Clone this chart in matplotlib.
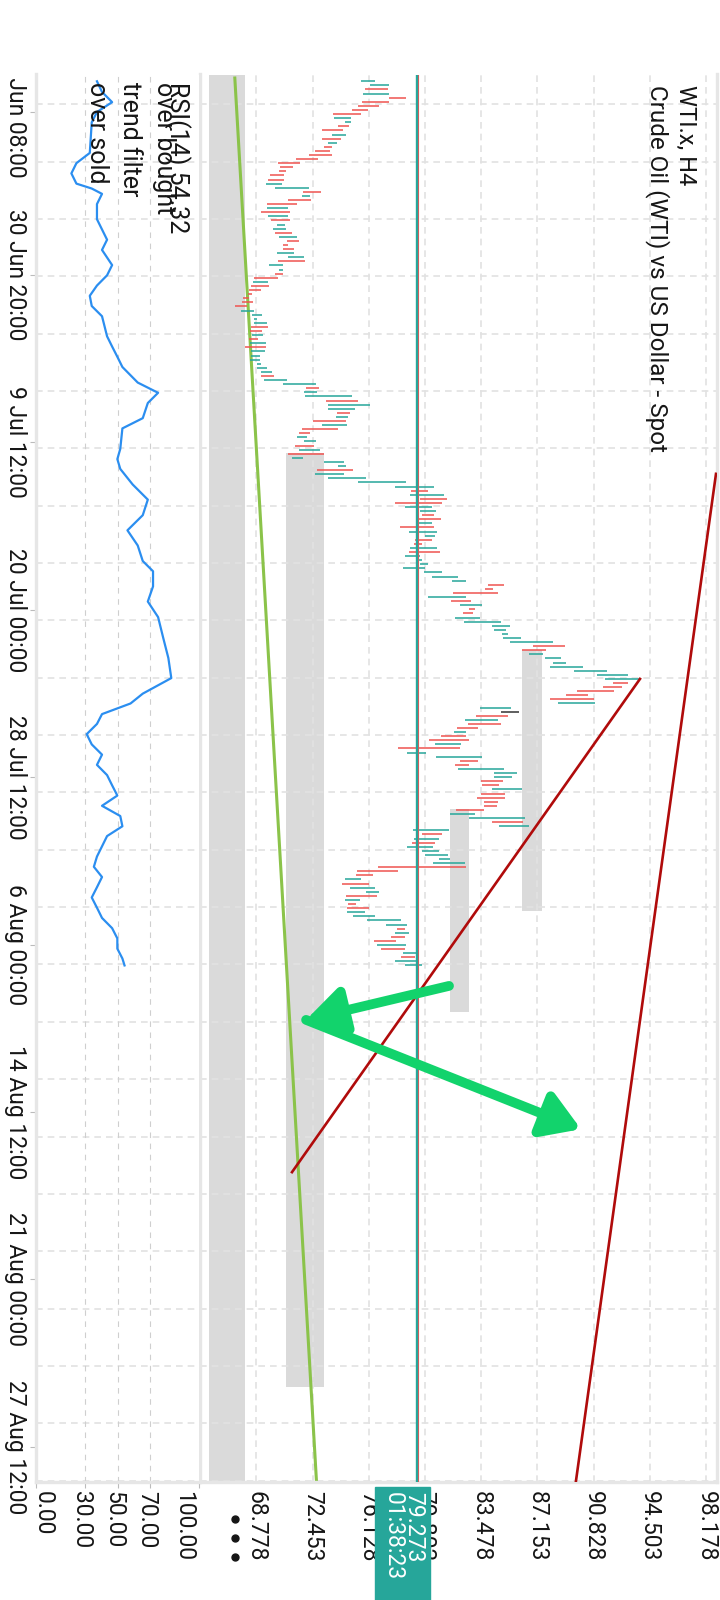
import numpy as np
import matplotlib
matplotlib.use("Agg")
import matplotlib.pyplot as plt
from matplotlib.patches import Rectangle, FancyArrowPatch
from matplotlib.lines import Line2D
from matplotlib.transforms import Bbox

plt.rcParams['font.family'] = ['Roboto', 'DejaVu Sans']

# ============================== data ======================================= #

# H4 bars, oldest first: low / high and direction (u = up, d = down, n = doji)
bar_low = [
    75.61, 76.20, 75.87, 75.77, 77.44, 75.66, 75.44, 75.05, 73.80, 73.87,
    74.57, 74.13, 73.06, 73.74, 73.08, 73.48, 73.21, 72.60, 72.21, 71.36,
    70.16, 70.32, 70.25, 69.64, 69.55, 69.40, 69.99, 71.84, 71.78, 70.86,
    69.49, 69.49, 69.07, 69.55, 69.73, 70.14, 69.88, 69.99, 70.25, 70.77,
    70.53, 70.53, 70.14, 70.86, 70.16, 69.60, 70.25, 69.99, 68.64, 68.57,
    68.42, 68.29, 68.20, 67.92, 67.81, 67.37, 67.76, 68.46, 68.64, 68.64,
    68.42, 68.35, 68.51, 68.29, 68.35, 68.03, 68.42, 68.42, 68.35, 68.81,
    68.83, 69.07, 69.07, 69.29, 70.53, 72.02, 71.89, 71.95, 73.32, 73.45,
    73.45, 74.07, 73.98, 72.47, 73.06, 71.78, 71.56, 71.45, 71.89, 71.30,
    71.56, 70.86, 71.12, 73.19, 74.11, 72.76, 72.60, 73.45, 75.42, 77.84,
    78.88, 78.82, 79.47, 77.84, 78.49, 79.47, 79.62, 79.32, 79.36, 78.16,
    78.75, 79.80, 79.14, 79.08, 78.82, 78.75, 78.49, 79.32, 79.49, 78.36,
    79.73, 80.26, 81.59, 83.90, 83.72, 81.65, 80.02, 81.50, 82.09, 82.68,
    82.31, 81.76, 82.37, 84.16, 84.31, 84.86, 84.92, 85.38, 86.88, 86.16,
    86.62, 87.67, 88.19, 87.99, 89.56, 91.03, 91.57, 92.12, 91.44, 89.76,
    89.02, 87.97, 88.52, 83.40, 84.77, 83.13, 82.44, 82.63, 81.91, 81.70,
    80.87, 80.08, 80.45, 78.05, 78.62, 80.52, 82.11, 81.76, 81.98, 84.31,
    84.33, 83.44, 83.50, 84.20, 83.46, 83.22, 83.66, 83.68, 81.83, 81.43,
    82.70, 84.18, 84.66, 79.04, 79.60, 79.08, 78.95, 78.64, 79.58, 79.80,
    80.74, 80.34, 76.75, 75.33, 75.29, 74.57, 74.37, 74.89, 75.94, 74.63,
    74.57, 74.76, 74.72, 74.68, 75.11, 76.03, 77.25, 77.99, 77.84, 77.55,
    76.48, 76.64, 76.92, 78.34, 78.21, 77.84, 78.49]
bar_high = [
    76.53, 77.44, 77.36, 77.44, 78.56, 77.44, 76.79, 76.09, 75.61, 74.96,
    74.96, 74.83, 74.41, 74.61, 74.30, 74.07, 73.69, 73.59, 73.69, 72.78,
    71.60, 71.17, 70.73, 70.58, 70.58, 70.47, 72.23, 73.00, 72.28, 72.32,
    71.43, 70.84, 70.95, 70.82, 70.97, 70.64, 70.71, 71.08, 71.43, 71.54,
    70.86, 71.23, 71.23, 71.89, 71.95, 70.51, 70.53, 70.51, 70.16, 69.51,
    69.57, 69.05, 68.46, 68.29, 68.55, 68.14, 68.62, 69.12, 68.83, 69.44,
    69.51, 69.12, 69.18, 68.85, 69.38, 69.38, 69.31, 68.99, 68.99, 69.05,
    69.49, 69.77, 69.90, 70.75, 72.65, 72.87, 72.74, 75.00, 75.39, 76.18,
    75.20, 74.89, 74.78, 74.61, 74.68, 74.09, 72.28, 72.08, 72.67, 72.54,
    72.93, 73.19, 71.80, 74.48, 74.61, 75.07, 74.50, 75.92, 78.53, 80.37,
    79.97, 81.04, 81.22, 80.89, 80.23, 80.50, 80.37, 80.82, 80.23, 80.39,
    80.56, 80.45, 80.23, 79.62, 80.58, 80.78, 79.47, 79.58, 79.97, 79.80,
    80.89, 81.93, 82.46, 84.96, 84.27, 84.55, 82.48, 82.78, 83.50, 83.07,
    82.96, 83.40, 84.77, 85.36, 85.10, 85.25, 86.06, 88.17, 88.93, 87.69,
    87.49, 88.67, 89.00, 90.11, 91.68, 93.05, 93.86, 93.05, 92.66, 92.16,
    90.46, 90.83, 90.89, 85.40, 85.92, 85.20, 84.55, 84.75, 83.24, 82.48,
    82.46, 82.65, 82.13, 82.09, 79.86, 83.50, 83.29, 82.65, 84.96, 85.79,
    85.49, 84.88, 84.66, 86.14, 85.05, 85.03, 84.55, 84.53, 83.66, 83.07,
    86.32, 86.19, 86.60, 81.39, 80.89, 80.74, 80.43, 80.30, 80.74, 81.30,
    81.43, 82.44, 82.48, 78.01, 76.38, 75.59, 76.16, 76.51, 76.77, 76.64,
    75.55, 75.29, 76.16, 75.85, 76.53, 78.21, 78.60, 78.49, 78.77, 78.49,
    77.90, 78.56, 78.49, 79.43, 79.14, 79.36, 79.58]
bar_dir = ("uudud ddddu uddud udddd ddddd uudud dudud uudud dduud uuddu "
           "ddddd duuuu ddudu duuuu uuduu duudu ududu dduud uduuu duuuu "
           "duddu uddud uuddu duuuu uuudd dudud duuuu uuudd uuuuu uuddd "
           "dduun duddu ddudu udduu uddud ddddu uduud uduuu uuddd uduud "
           "udduu uudud dudud uu").replace(" ", "")

# RSI(14), read at bar positions
rsi_idx = [0, 2.6, 5.1, 7.5, 10, 17.5, 20, 22.5, 25, 26.2,
           27.5, 30, 33.7, 36.2, 38.7, 41.2, 44.9, 47.4, 49.9, 52.4,
           54.9, 57.4, 62.3, 64.8, 67.3, 69.8, 73.6, 76.1, 78.6, 82.3,
           84.8, 89.8, 92.3, 94.7, 98.5, 102.2, 106, 109.7, 113.4, 117.2,
           119.7, 123.4, 127.1, 130.9, 135.9, 140.9, 145.8, 149.6, 152, 154.6,
           157, 159.5, 162, 164.5, 167, 169.5, 172, 174.5, 177, 179.5,
           182, 184.4, 186.9, 189.4, 191.9, 194.4, 196.9, 199.4, 201.9, 204.4,
           206.9, 209.4, 211.9, 214.3, 216]
rsi_val = [37.4, 40.5, 46.7, 37.4, 34.2, 33, 24.8, 21.7, 24.8, 34.2,
           40.5, 37.4, 37.4, 40.5, 43.6, 40.5, 46.7, 43.6, 37.4, 33,
           34.2, 40.5, 43.6, 46.7, 49.9, 53, 62.4, 74.9, 68.6, 65.5,
           53, 51.7, 49.9, 51.7, 59.3, 68.6, 65.5, 56.1, 62.4, 65.5,
           71.8, 71.8, 68.6, 74.9, 78, 81.2, 83, 65.5, 58, 40.5,
           37.4, 31.1, 34.2, 40.5, 37.4, 43.6, 46.7, 49.9, 40.5, 51.7,
           53, 43.6, 40.5, 37.4, 35.5, 40.5, 37.4, 34.2, 37.4, 40.5,
           46.7, 49.9, 49.9, 53, 54.32]

price_ticks = [68.778, 72.453, 76.128, 79.803, 83.478, 87.153, 90.828, 94.503, 98.178]
rsi_ticks = [0, 30, 50, 70, 100]
time_labels = ["21 Jun 08:00", "30 Jun 20:00", "9 Jul 12:00", "20 Jul 00:00",
               "28 Jul 12:00", "6 Aug 00:00", "14 Aug 12:00", "21 Aug 00:00",
               "27 Aug 12:00"]

last_price = 79.273
ask_price = 79.36
countdown = "01:38:23"
rsi_last = 54.32

# shaded zones: price range and bar range
zone_lo = [65.67, 70.71, 81.43, 86.14]
zone_hi = [68.03, 73.19, 82.68, 87.45]
zone_from = [-5, 90.7, 177.8, 139.0]
zone_to = [350, 319.0, 227.4, 202.7]

# drawn lines: (price, bar) end points
red_lines = [[(93.86, 146.0), (71.10, 266.5)],
             [(98.83, 95.9), (89.67, 342.0)]]
green_line = [(67.36, -0.8), (72.70, 342.0)]
arrow_pts = [(81.37, 221.0), (72.02, 229.3), (90.00, 256.0)]

# ============================== layout ===================================== #

W, H = 720, 1600
TOP, BOT = 74.5, 1482
UP, DOWN = '#26a69a', '#ef5350'
GRID = '#e2e2e2'
EDGE = '#e6e6e6'
INK = '#161616'


def fx(px):
    return px / W


def fy(py):
    return 1 - py / H


fig = plt.figure(figsize=(W / 100, H / 100), dpi=100)
ax = fig.add_axes([fx(200), fy(BOT), fx(717) - fx(200), (BOT - TOP) / H])
ax_rsi = fig.add_axes([fx(36), fy(BOT), fx(199) - fx(36), (BOT - TOP) / H])

ylim = (342.2, -1.66)
ax.set_xlim(65.083, 98.896)
ax.set_ylim(*ylim)
ax_rsi.set_xlim(0, 100)
ax_rsi.set_ylim(*ylim)

grid_rows = 5.62 + 14.01 * np.arange(25)
label_rows = 6.4 + 40.9 * np.arange(len(time_labels))
label_rows[0] += 1.0

for a in (ax, ax_rsi):
    a.set_xticks([])
    a.set_yticks([])
    for s in a.spines.values():
        s.set_color(EDGE)
        s.set_linewidth(2.4)
    a.spines['top'].set_visible(False)
    for r in grid_rows:
        a.axhline(r, color=GRID, lw=1.2, ls=(0, (4, 3)), zorder=1.5)
ax_rsi.spines['right'].set_visible(False)

for p in price_ticks:
    ax.axvline(p, color=GRID, lw=1.2, ls=(0, (4, 3)), zorder=1.5)
for v in rsi_ticks[1:-1]:
    ax_rsi.axvline(v, color='#cfcfcf', lw=0.8, ls=(0, (5, 5)), zorder=1.5)

# time ticks on the left edge, rsi ticks under the panel
ax_rsi.set_yticks(label_rows)
ax_rsi.set_xticks(rsi_ticks)
ax_rsi.tick_params(length=4, color='#bbbbbb', labelleft=False, labelbottom=False)

# zones
for lo, hi, a0, a1 in zip(zone_lo, zone_hi, zone_from, zone_to):
    ax.add_patch(Rectangle((lo, a0), hi - lo, a1 - a0, color='#dadada', lw=0, zorder=1))

# bars
colors = {'u': UP, 'd': DOWN, 'n': '#333333'}
ax.hlines(np.arange(len(bar_low)), bar_low, bar_high,
          colors=[colors[c] for c in bar_dir], lw=1.1, zorder=3)

# lines
ax.plot([p[0] for p in green_line], [p[1] for p in green_line],
        color='#8bc34a', lw=2.2, zorder=2.5)
for ln in red_lines:
    ax.plot([p[0] for p in ln], [p[1] for p in ln], color='#b00b0b', lw=1.9, zorder=4)
ax.axvline(ask_price, color=DOWN, lw=0.8, zorder=4)
ax.axvline(last_price, color=UP, lw=1.7, zorder=4.2)

# arrow
for a0, a1 in zip(arrow_pts[:-1], arrow_pts[1:]):
    ax.add_patch(FancyArrowPatch(a0, a1, arrowstyle='-|>,head_length=1.6,head_width=1.0',
                                 mutation_scale=14, color='#12d36c', lw=7,
                                 capstyle='round', joinstyle='round',
                                 shrinkA=0, shrinkB=0, zorder=5))

# rsi line
ax_rsi.plot(rsi_val, rsi_idx, color='#2b8ef0', lw=1.6, zorder=3)

# ============================== texts ====================================== #

FS = 16.5
rot = dict(rotation=-90, rotation_mode='anchor')

for p in price_ticks:
    ax.annotate(f"{p:.3f}", xy=(p, 0), xycoords=('data', 'axes fraction'),
                xytext=(0, -6.5), textcoords='offset points',
                ha='left', va='center', fontsize=FS, color=INK, **rot)

rsi_offsets = [5, -2.5, -2.5, -2.5, -11]
for v, off in zip(rsi_ticks, rsi_offsets):
    ax_rsi.annotate(f"{v:.2f}", xy=(v, 0), xycoords=('data', 'axes fraction'),
                    xytext=(off, -6.5), textcoords='offset points',
                    ha='left', va='center', fontsize=FS, color=INK, **rot)

clip = Bbox.from_extents(0, 0, W, H - TOP)
for r, lab in zip(label_rows, time_labels):
    t = ax_rsi.annotate(lab, xy=(0, r), xycoords=('axes fraction', 'data'),
                        xytext=(-6.5, 0), textcoords='offset points',
                        ha='center', va='top', fontsize=FS, color=INK, **rot)
    t.set_clip_box(clip)
    t.set_clip_on(True)

# titles and indicator legend
fig.text(fx(686), fy(85), "WTI.x, H4", ha='left', va='center', fontsize=17, color=INK, **rot)
fig.text(fx(657), fy(85), "Crude Oil (WTI) vs US Dollar - Spot", ha='left', va='center',
         fontsize=17.5, color=INK, **rot)
LFS = 18
fig.text(fx(177), fy(82), f"RSI(14) {rsi_last:.2f}", ha='left', va='center',
         fontsize=LFS, color=INK, **rot)
fig.text(fx(164), fy(82), "over bought", ha='left', va='center', fontsize=LFS, color=INK, **rot)
fig.text(fx(130), fy(82), "trend filter", ha='left', va='center', fontsize=LFS, color=INK, **rot)
fig.text(fx(97), fy(82), "over sold", ha='left', va='center', fontsize=LFS, color=INK, **rot)

# menu dots under the price scale
fig.add_artist(Line2D([fx(235)] * 3, [fy(1519), fy(1538), fy(1557)], transform=fig.transFigure,
                      ls='none', marker='o', ms=5, color=INK))

# last price badge
fig.add_artist(Rectangle((fx(375), 0), fx(430) - fx(375), fy(1487),
                         transform=fig.transFigure, color=UP, zorder=5))
fig.text(fx(414), fy(1492), f"{last_price:.3f}", ha='left', va='center',
         fontsize=FS, color='white', zorder=6, **rot)
fig.text(fx(393), fy(1492), countdown, ha='left', va='center',
         fontsize=FS, color='white', zorder=6, **rot)

fig.savefig("out.png", dpi=100, facecolor='white')
